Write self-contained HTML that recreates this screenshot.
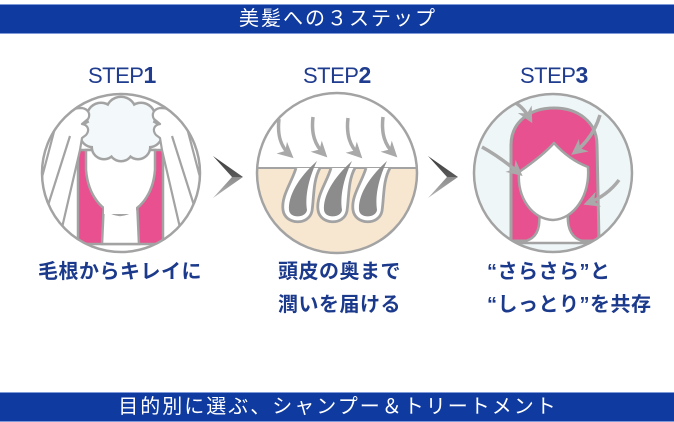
<!DOCTYPE html>
<html><head><meta charset="utf-8">
<style>
html,body{margin:0;padding:0;background:#fff;}
body{width:674px;height:422px;position:relative;overflow:hidden;font-family:"Liberation Sans","Noto Sans CJK JP",sans-serif;}
.bar{position:absolute;left:0;width:674px;height:30px;background:#0f3a9f;border-top:1px solid #7e9ad8;border-bottom:1px solid #7e9ad8;box-sizing:border-box;color:#fff;font-size:20px;letter-spacing:2px;padding-left:2px;text-align:center;line-height:28px;white-space:nowrap;}
.step{position:absolute;top:64px;font-size:22px;line-height:22px;color:#1f3c8e;letter-spacing:-0.5px;white-space:nowrap;}
.step b{font-size:23px;letter-spacing:0;}
.cap{position:absolute;font-size:20px;line-height:22px;font-weight:bold;color:#1c3a8c;white-space:nowrap;letter-spacing:0.5px;}
svg{position:absolute;left:0;top:0;}
</style></head>
<body>
<div class="bar" style="top:4px;">美髪への３ステップ</div>
<div class="bar" style="top:392px;">目的別に選ぶ、シャンプー＆トリートメント</div>

<svg width="674" height="422" viewBox="0 0 674 422">
<defs>
  <clipPath id="c1"><circle cx="121" cy="173" r="78"/></clipPath>
  <clipPath id="c2"><circle cx="337" cy="173" r="79"/></clipPath>
  <clipPath id="c3"><circle cx="553" cy="173" r="78"/></clipPath>
  <linearGradient id="cg" x1="0" y1="0" x2="0" y2="1">
    <stop offset="0" stop-color="#3c3c3c"/><stop offset="0.5" stop-color="#5a5a5a"/>
    <stop offset="0.5" stop-color="#8c8c8c"/><stop offset="1" stop-color="#b4b4b4"/>
  </linearGradient>
  <marker id="ah" viewBox="0 0 10 10" refX="7" refY="5" markerWidth="4.5" markerHeight="4.5" orient="auto">
    <path d="M0,0 L10,5 L0,10 L3,5 Z" fill="#a9a9a9"/>
  </marker>
  <g id="arm">
    <path d="M36,200 L56,124 C60,114 70,108 82,108 C88,109 91,114 88,119 L82,124 C88,125 90,130 86,135 L82,138 L80,150 L58,245 Z" fill="#fff" stroke="#a3a3a3" stroke-width="2.2" stroke-linejoin="round"/>
    <path d="M70,136 L44,218" fill="none" stroke="#a3a3a3" stroke-width="2.2"/>
  </g>
</defs>

<!-- Circle 1 -->
<g clip-path="url(#c1)">
  <circle cx="121" cy="173" r="79" fill="#fff"/>
  <path d="M78,150 L78,241 Q78,244 81,244 L160,244 Q163,244 163,241 L163,150 Z" fill="#e8508f" stroke="#a3a3a3" stroke-width="2.5"/>
  <path d="M104,200 L102,244 L139,244 L137,200 Z" fill="#fff" stroke="#a3a3a3" stroke-width="2.5"/>
  <path d="M86,150 L86,170 C88,195 102,213 120,215 C139,213 153,195 155,170 L155,150 Z" fill="#fff" stroke="#a3a3a3" stroke-width="2.5"/>
  <rect x="104" y="200" width="32" height="14" fill="#fff"/>
  <g fill="#a3a3a3">
    <circle cx="101" cy="117" r="15.5"/><circle cx="121" cy="112" r="16.5"/><circle cx="141" cy="117" r="15.5"/>
    <circle cx="93" cy="134" r="14.5"/><circle cx="149" cy="134" r="14.5"/><circle cx="121" cy="133" r="20.5"/>
    <circle cx="104" cy="147" r="13.5"/><circle cx="121" cy="149" r="13.5"/><circle cx="138" cy="147" r="13.5"/>
  </g>
  <g fill="#f3f8fa">
    <circle cx="101" cy="117" r="13"/><circle cx="121" cy="112" r="14"/><circle cx="141" cy="117" r="13"/>
    <circle cx="93" cy="134" r="12"/><circle cx="149" cy="134" r="12"/><circle cx="121" cy="133" r="18"/>
    <circle cx="104" cy="147" r="11"/><circle cx="121" cy="149" r="11"/><circle cx="138" cy="147" r="11"/>
  </g>
  <use href="#arm"/>
  <use href="#arm" transform="translate(242,0) scale(-1,1)"/>
</g>
<circle cx="121" cy="173" r="79" fill="none" stroke="#a3a3a3" stroke-width="2.5"/>

<!-- Circle 2 -->
<g clip-path="url(#c2)">
  <circle cx="337" cy="173" r="80" fill="#fff"/>
  <rect x="250" y="168" width="180" height="100" fill="#f7e7d0"/>
  <line x1="250" y1="168" x2="430" y2="168" stroke="#a3a3a3" stroke-width="2"/>
  <g id="fol">
    <path d="M296,168 C292,182 281,196 283,210 C285,225 309,226 312,211 C314,198 313,180 320,168" fill="#fff" stroke="#a3a3a3" stroke-width="2.8"/>
    <path d="M289,210 C288,196 298,178 317,161 C308,180 305,197 307,210 C306,218 290,219 289,210 Z" fill="#8c8c8c"/>
  </g>
  <use href="#fol" transform="translate(35,0)"/>
  <use href="#fol" transform="translate(70,0)"/>
  <g fill="none" stroke="#a9a9a9" stroke-width="3.5" marker-end="url(#ah)">
    <path d="M279,119 C277,136 281,147 290,155"/>
    <path d="M313,117 C311,134 315,145 324,154"/>
    <path d="M348,118 C346,135 350,146 359,155"/>
    <path d="M383,117 C381,134 385,145 394,154"/>
  </g>
</g>
<circle cx="337" cy="173" r="80" fill="none" stroke="#a3a3a3" stroke-width="2.5"/>

<!-- Circle 3 -->
<g clip-path="url(#c3)">
  <circle cx="553" cy="173" r="79" fill="#eff6f8"/>
  <path d="M511,241 L511,145 C511,122 530,108 554,108 C578,108 597,122 597,145 L599,241 Z" fill="#e8518f" stroke="#a3a3a3" stroke-width="3" stroke-linejoin="round"/>
  <path d="M539,205 C540,222 540,232 532,238 C528,241 522,242 518,243 L592,243 C586,242 580,241 576,238 C568,232 567,222 568,205 Z" fill="#fff" stroke="#a3a3a3" stroke-width="2.5"/>
  <path d="M519,172 C532,163 546,152 554,143 C563,153 575,162 588,167 C590,196 574,219 553,220 C532,219 517,198 519,172 Z" fill="#fff" stroke="#a3a3a3" stroke-width="2.5" stroke-linejoin="round"/>
  <g fill="none" stroke="#a9a9a9" stroke-width="3.5" marker-end="url(#ah)">
    <path d="M512,101 Q523,106 530,119"/>
    <path d="M600,115 Q593,138 575,152"/>
    <path d="M482,147 Q500,157 519,173"/>
    <path d="M619,180 Q607,196 588,203"/>
  </g>
</g>
<circle cx="553" cy="173" r="79" fill="none" stroke="#a3a3a3" stroke-width="2.5"/>

<!-- Chevrons -->
<polygon points="213,156 243,177 213,198 232,177" fill="url(#cg)"/>
<polygon points="428,156 458,177 428,198 447,177" fill="url(#cg)"/>
</svg>

<div class="step" style="left:88px;">STEP<b>1</b></div>
<div class="step" style="left:303px;">STEP<b>2</b></div>
<div class="step" style="left:520px;">STEP<b>3</b></div>

<div class="cap" style="left:38px;top:261px;">毛根からキレイに</div>
<div class="cap" style="left:278px;top:261px;">頭皮の奥まで</div>
<div class="cap" style="left:278px;top:294px;">潤いを届ける</div>
<div class="cap" style="left:487px;top:261px;">“さらさら”と</div>
<div class="cap" style="left:487px;top:294px;">“しっとり”を共存</div>
</body></html>
